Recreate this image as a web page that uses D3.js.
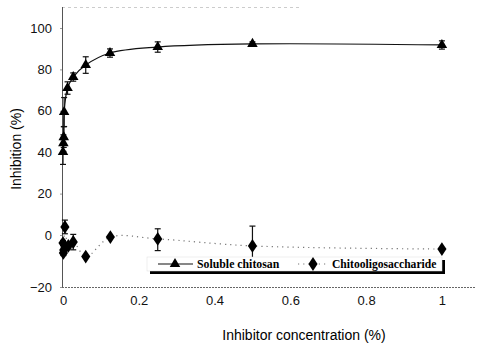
<!DOCTYPE html>
<html>
<head>
<meta charset="utf-8">
<script src="https://cdn.jsdelivr.net/npm/d3@7"></script>
<style>
  body { margin: 0; background: #fff; }
  svg { display: block; }
  .tick text { font-family: "Liberation Sans", Arial, sans-serif; font-size: 13px; fill: #111; }
</style>
</head>
<body>
<div id="chart"></div>
<script>
// concentrations (%)
const chitosanConc = [0, 0.001, 0.002, 0.003, 0.012, 0.027, 0.06, 0.124, 0.25, 0.5, 1];
const chitosanInh  = [40.1, 44.4, 47.3, 59.4, 71, 76.3, 82.1, 87.9, 90.8, 92.3, 91.8];
const chitosanErr  = [6, 4, 5, 7, 3, 2, 4, 2, 2.5, 1, 2];

const oligoConc = [0, 0.001, 0.002, 0.005, 0.014, 0.027, 0.06, 0.125, 0.25, 0.5, 1];
const oligoInh  = [-3.1, -6.9, -5.8, 3.9, -4.2, -2.7, -8.3, -0.8, -1.5, -4.2, -5.4];
const oligoErr  = [1, 1, 1, 3.3, 1, 3, 0, 0, 4.5, 8.5, 0];

const xTicks = [0, 0.2, 0.4, 0.6, 0.8, 1];
const yTicks = [-20, 0, 20, 40, 60, 80, 100];

const width = 477, height = 351;

const svg = d3.select("#chart").append("svg")
  .attr("width", width)
  .attr("height", height);

const x = d3.scaleLinear().domain([0, 1.09]).range([63, 476]);
// the scanned figure is squeezed above 0, so the scale is piecewise
const y = d3.scaleLinear().domain([-20, 0, 110]).range([287, 235, 7.3]);

const chitosan = chitosanConc.map((c, i) => ({x: c, y: chitosanInh[i], e: chitosanErr[i]}));
const oligo = oligoConc.map((c, i) => ({x: c, y: oligoInh[i], e: oligoErr[i]}));

// frame top (faint)
svg.append("line")
  .attr("x1", 62).attr("x2", 300).attr("y1", 7.5).attr("y2", 7.5)
  .attr("stroke", "#ccc").attr("stroke-dasharray", "3,3");

// y axis
const yAxis = svg.append("g")
  .attr("transform", "translate(62,0)")
  .call(d3.axisLeft(y).tickValues(yTicks).tickSize(2).tickSizeOuter(0).tickPadding(8));
yAxis.select(".domain").attr("stroke", "#555").attr("d", "M0.5,7V287");
yAxis.selectAll(".tick line").attr("stroke", "#999");

// x axis
const xAxis = svg.append("g")
  .attr("transform", "translate(0,287)")
  .call(d3.axisBottom(x).tickValues(xTicks).tickFormat(d3.format("~g")).tickSize(0).tickPadding(9));
xAxis.select(".domain").attr("stroke", "#666").attr("stroke-dasharray", "2,1").attr("d", "M62,0.5H476");

// axis titles
svg.append("text")
  .attr("x", 304).attr("y", 340)
  .attr("text-anchor", "middle")
  .style("font-family", "Liberation Sans, Arial, sans-serif")
  .style("font-size", "14px")
  .text("Inhibitor concentration (%)");

svg.append("text")
  .attr("transform", "translate(21,149) rotate(-90)")
  .attr("text-anchor", "middle")
  .style("font-family", "Liberation Sans, Arial, sans-serif")
  .style("font-size", "14px")
  .text("Inhibition (%)");

// lines
const line = d3.line().x(d => x(d.x)).y(d => y(d.y)).curve(d3.curveCatmullRom.alpha(0.5));

svg.append("path")
  .datum(oligo)
  .attr("d", line)
  .attr("fill", "none")
  .attr("stroke", "#777")
  .attr("stroke-width", 1.2)
  .attr("stroke-dasharray", "1.2,4");

svg.append("path")
  .datum(chitosan)
  .attr("d", line)
  .attr("fill", "none")
  .attr("stroke", "#111")
  .attr("stroke-width", 1.2);

// error bars
function errorBars(data) {
  const g = svg.append("g").attr("stroke", "#111").attr("stroke-width", 1.2);
  data.filter(d => d.e > 0).forEach(d => {
    const cx = x(d.x), top = y(d.y + d.e), bot = y(d.y - d.e);
    g.append("line").attr("x1", cx).attr("x2", cx).attr("y1", top).attr("y2", bot);
    g.append("line").attr("x1", cx - 3).attr("x2", cx + 3).attr("y1", top).attr("y2", top);
    g.append("line").attr("x1", cx - 3).attr("x2", cx + 3).attr("y1", bot).attr("y2", bot);
  });
}
errorBars(oligo);
errorBars(chitosan);

// markers
const tri = d3.symbol().type(d3.symbolTriangle).size(48);
const dia = d3.symbol().type(d3.symbolDiamond).size(55);

svg.append("g").selectAll("path")
  .data(oligo).join("path")
  .attr("d", dia)
  .attr("transform", d => `translate(${x(d.x)},${y(d.y)}) scale(1.15,1)`)
  .attr("fill", "#000");

svg.append("g").selectAll("path")
  .data(chitosan).join("path")
  .attr("d", tri)
  .attr("transform", d => `translate(${x(d.x)},${y(d.y)})`)
  .attr("fill", "#000");

// legend with shadow
const lg = svg.append("g");
lg.append("rect").attr("x", 150).attr("y", 260).attr("width", 295).attr("height", 14).attr("fill", "#000");
lg.append("rect").attr("x", 147).attr("y", 257).attr("width", 295).attr("height", 14)
  .attr("fill", "#fff").attr("stroke", "#ddd").attr("stroke-width", 0.5);

lg.append("line").attr("x1", 158).attr("x2", 193).attr("y1", 264).attr("y2", 264)
  .attr("stroke", "#111").attr("stroke-width", 1.2);
lg.append("path").attr("d", tri).attr("transform", "translate(175,264)").attr("fill", "#000");
lg.append("text").attr("x", 197).attr("y", 268)
  .style("font-family", "Liberation Serif, Times New Roman, serif")
  .style("font-weight", "bold").style("font-size", "11.8px")
  .text("Soluble chitosan");

lg.append("line").attr("x1", 298).attr("x2", 328).attr("y1", 264).attr("y2", 264)
  .attr("stroke", "#777").attr("stroke-width", 1.2).attr("stroke-dasharray", "1.2,4");
lg.append("path").attr("d", dia).attr("transform", "translate(313,264) scale(1.15,1)").attr("fill", "#000");
lg.append("text").attr("x", 332).attr("y", 268)
  .style("font-family", "Liberation Serif, Times New Roman, serif")
  .style("font-weight", "bold").style("font-size", "11.6px")
  .text("Chitooligosaccharide");
</script>
</body>
</html>
